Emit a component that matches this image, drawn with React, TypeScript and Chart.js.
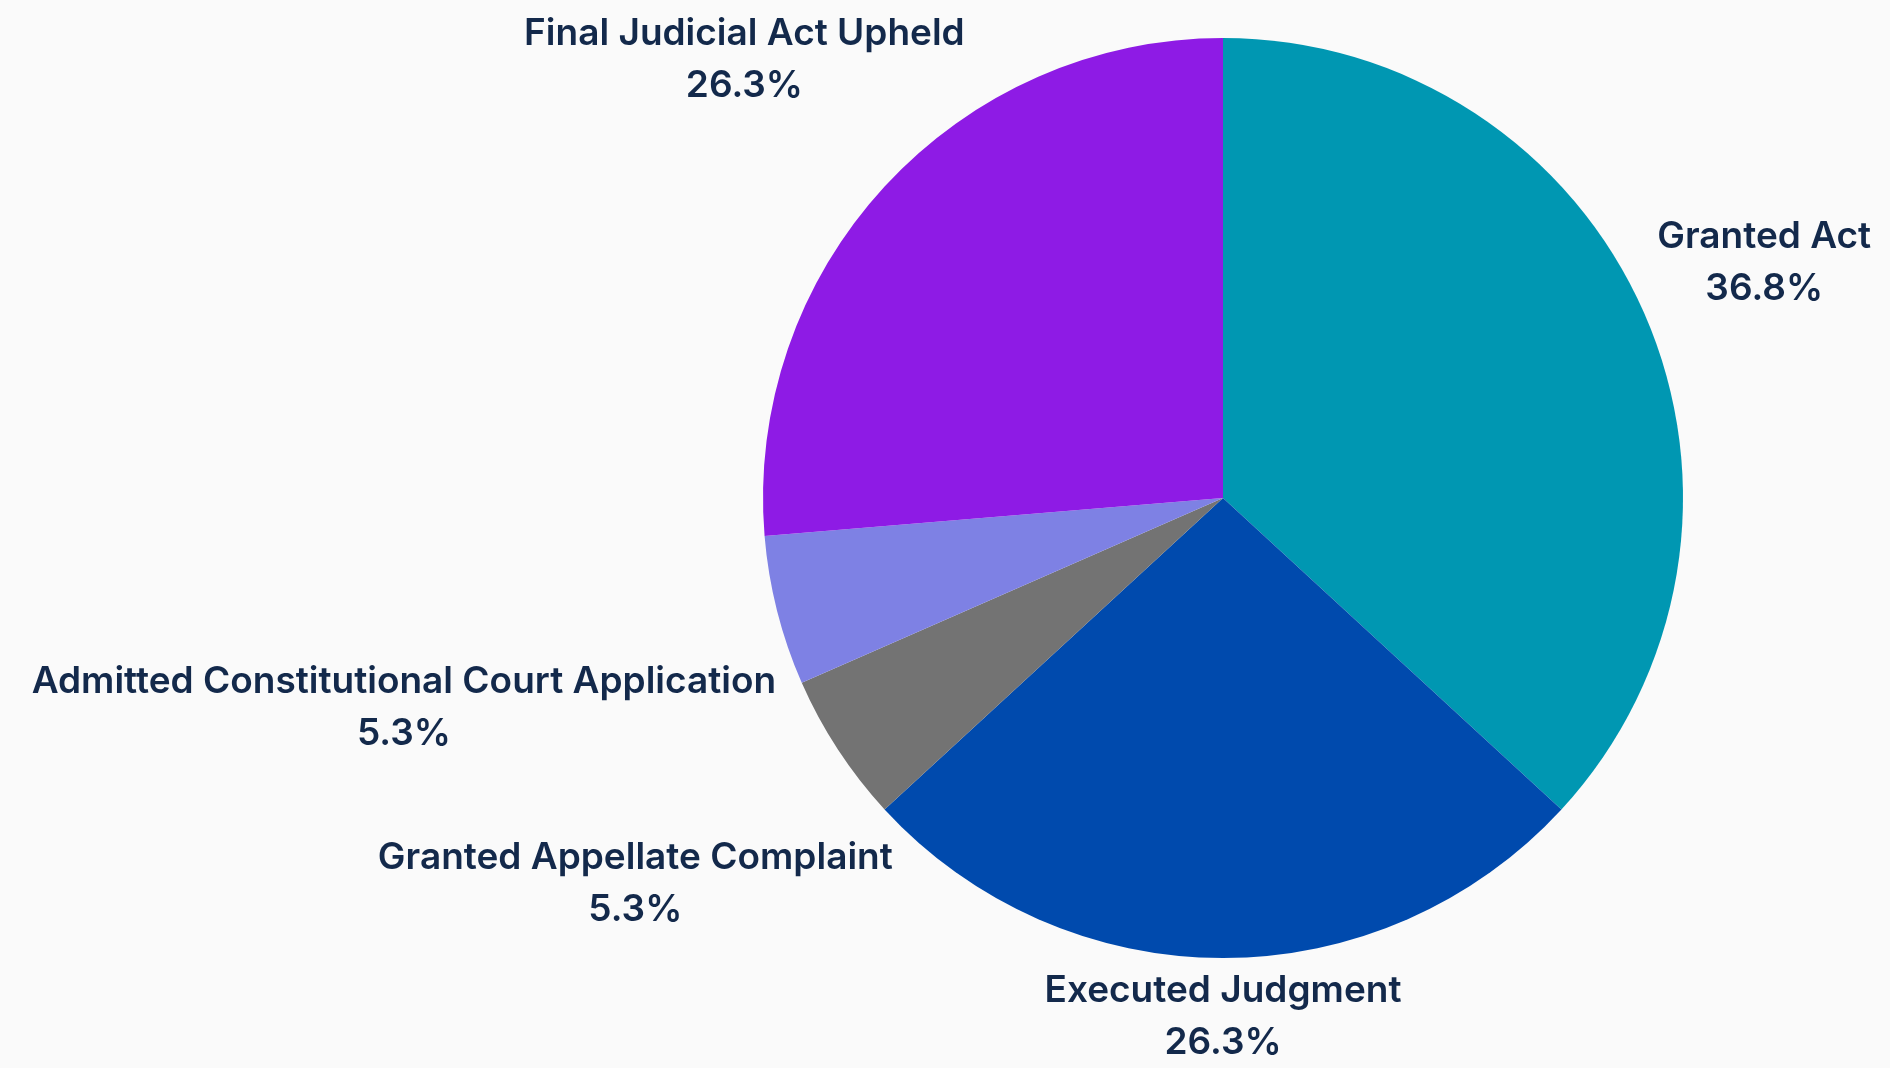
import React, { useEffect, useRef } from "react";
import { Chart, registerables } from "chart.js";

Chart.register(...registerables);

const categories = [
  "Granted Act",
  "Executed Judgment",
  "Granted Appellate Complaint",
  "Admitted Constitutional Court Application",
  "Final Judicial Act Upheld",
];
const counts = [7, 5, 1, 1, 5];
const sliceColors = ["#0097B2", "#004AAD", "#737373", "#7E81E4", "#8E1BE5"];

const FONT_SIZE = 37;
const LINE_H = 52;
const CAP_RATIO = 0.727;
const GAP = 17;
const TEXT_COLOR = "#13294B";

const outerLabels = {
  id: "outerLabels",
  afterDraw(chart: any) {
    const ctx = chart.ctx;
    const meta = chart.getDatasetMeta(0);
    const data = chart.data.datasets[0].data as number[];
    const total = data.reduce((a, b) => a + b, 0);
    ctx.save();
    ctx.fillStyle = TEXT_COLOR;
    ctx.textAlign = "center";
    ctx.textBaseline = "alphabetic";
    ctx.font = `600 ${FONT_SIZE}px Inter, 'Noto Sans', sans-serif`;
    const W = chart.width;
    const H = chart.height;
    const capH = FONT_SIZE * CAP_RATIO;
    meta.data.forEach((arc: any, i: number) => {
      const { x, y, startAngle, endAngle, outerRadius } = arc.getProps(
        ["x", "y", "startAngle", "endAngle", "outerRadius"],
        true
      );
      const mid = (startAngle + endAngle) / 2;
      const vx = Math.cos(mid);
      const vy = Math.sin(mid);
      const lines = [
        String(chart.data.labels[i]),
        ((data[i] / total) * 100).toFixed(1) + "%",
      ];
      const w = Math.max(...lines.map((l) => ctx.measureText(l).width));
      const h = LINE_H * (lines.length - 1) + capH;
      // push the text block outward along the slice's mid-angle until it clears the pie
      let d = outerRadius * 0.5;
      let cx = x,
        cy = y;
      for (let k = 0; k < 2000; k++) {
        cx = x + vx * d;
        cy = y + vy * d;
        const nx = Math.min(Math.max(x, cx - w / 2), cx + w / 2);
        const ny = Math.min(Math.max(y, cy - h / 2), cy + h / 2);
        if (Math.hypot(nx - x, ny - y) >= outerRadius + GAP) break;
        d += 0.5;
      }
      // keep inside the canvas
      cx = Math.min(Math.max(cx, w / 2 + 4), W - w / 2 - 4);
      cy = Math.min(Math.max(cy, h / 2 + 4), H - h / 2 - 4);
      const top = cy - h / 2;
      lines.forEach((l, k) => {
        ctx.fillText(l, cx, top + capH + LINE_H * k);
      });
    });
    ctx.restore();
  },
};

export default function App() {
  const ref = useRef<HTMLCanvasElement>(null);
  useEffect(() => {
    if (!ref.current) return;
    const chart = new Chart(ref.current, {
      type: "pie",
      data: {
        labels: categories,
        datasets: [
          {
            data: counts,
            backgroundColor: sliceColors,
            borderWidth: 0,
          },
        ],
      },
      options: {
        animation: false,
        responsive: true,
        maintainAspectRatio: false,
        layout: { padding: { left: 763, right: 207, top: 38, bottom: 110 } },
        plugins: {
          legend: { display: false },
          tooltip: { enabled: false },
        },
      },
      plugins: [outerLabels],
    });
    return () => chart.destroy();
  }, []);
  return (
    <div
      style={{
        position: "fixed",
        left: 0,
        top: 0,
        width: 1890,
        height: 1068,
        background: "#FAFAFA",
      }}
    >
      <canvas ref={ref} />
    </div>
  );
}
